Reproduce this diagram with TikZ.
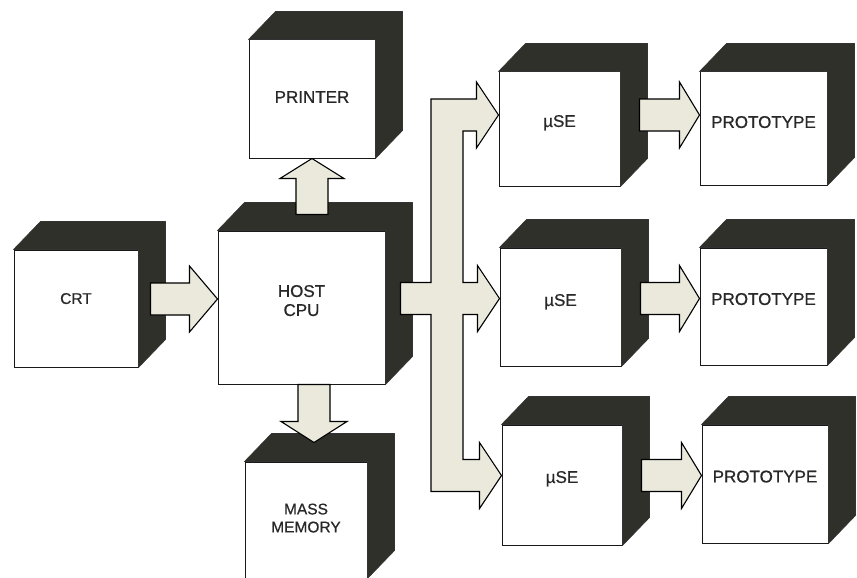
\documentclass[tikz,border=0pt]{standalone}
\usepackage{fontspec}
\setmainfont{Liberation Sans}[AutoFakeBold=0.7]
\usetikzlibrary{calc}

\definecolor{facegray}{RGB}{48,48,42}
\definecolor{cream}{RGB}{234,233,220}
\definecolor{inkgray}{RGB}{40,40,40}

\newcommand{\fatright}[3][22pt]{%
  \filldraw[fat] let \p1=#2, \p2=#3 in
    (\x1,\y2+16pt) -- (\x2-#1,\y2+16pt) -- (\x2-#1,\y2+33pt) -- (\p2)
    -- (\x2-#1,\y2-33pt) -- (\x2-#1,\y2-16pt) -- (\x1,\y2-16pt) -- cycle;}
\newcommand{\fatup}[3][20pt]{%
  \filldraw[fat] let \p1=#2, \p2=#3 in
    (\x2-16pt,\y1) -- (\x2-16pt,\y2-#1) -- (\x2-32pt,\y2-#1) -- (\p2)
    -- (\x2+32pt,\y2-#1) -- (\x2+16pt,\y2-#1) -- (\x2+16pt,\y1) -- cycle;}
\newcommand{\fatdown}[3][20pt]{%
  \filldraw[fat] let \p1=#2, \p2=#3 in
    (\x2-16pt,\y1) -- (\x2-16pt,\y2+#1) -- (\x2-33pt,\y2+#1) -- (\p2)
    -- (\x2+33pt,\y2+#1) -- (\x2+16pt,\y2+#1) -- (\x2+16pt,\y1) -- cycle;}

\begin{document}
\begin{tikzpicture}[
    x=1pt, y=1pt,
    block/.style={draw=black!90, line width=1pt, fill=white, inner sep=0pt,
      text=inkgray, font=\fontsize{17}{19}\selectfont\bfseries, align=center},
    face/.style={fill=facegray, draw=black!80, line width=0.6pt, line join=round},
    fat/.style={fill=cream, draw=black, line width=1.1pt, line join=miter}
  ]
    \clip (0,0) rectangle (857,-578);
    \fill[white] (0,0) rectangle (857,-578);

    \node[block, minimum width=124, minimum height=117, text depth=20pt,
      font=\fontsize{15.5}{17}\selectfont\bfseries] (crt) at (76,-308.5) {CRT};
    \node[block, minimum width=126, minimum height=118, text depth=4pt] (printer) at (312,-99) {PRINTER};
    \node[block, minimum width=167, minimum height=153, text depth=14pt] (host) at (301.5,-307.5) {HOST\\CPU};
    \node[block, minimum width=122, minimum height=116, text depth=4pt,
      font=\fontsize{15.5}{18}\selectfont\bfseries] (mass) at (306,-520) {MASS\\MEMORY};

    \node[block, minimum width=121, minimum height=114, text depth=16pt] (use1) at (559.5,-129) {µSE};
    \node[block, minimum width=121, minimum height=118, text depth=14pt] (use2) at (560.5,-307) {µSE};
    \node[block, minimum width=120, minimum height=120, text depth=16pt] (use3) at (562,-485) {µSE};

    \node[block, minimum width=127, minimum height=113, text depth=13pt] (proto1) at (763.5,-128.5) {PROTOTYPE};
    \node[block, minimum width=127, minimum height=117, text depth=15pt] (proto2) at (763.5,-306.5) {PROTOTYPE};
    \node[block, minimum width=126, minimum height=118, text depth=15pt] (proto3) at (765,-484) {PROTOTYPE};

    \foreach \n in {crt,printer,host,mass,use1,use2,use3,proto1,proto2,proto3}
      \filldraw[face] (\n.north west) -- ++(27,28) -- ($(\n.north east)+(27,28)$)
        -- ($(\n.south east)+(27,28)$) -- (\n.south east) -- (\n.north east) -- cycle;

    \fatright[28pt]{([xshift=12pt]crt.east)}{([yshift=8.5pt]host.west)}
    \fatup{([yshift=16pt]host.north)}{(printer.south)}
    \fatdown[21pt]{(host.south)}{([xshift=8pt,yshift=19pt]mass.north)}

    \fatright[20pt]{([xshift=19pt]use1.east)}{([yshift=13.5pt]proto1.west)}
    \fatright[20pt]{([xshift=19pt]use2.east)}{([yshift=8pt]proto2.west)}
    \fatright[20pt]{([xshift=19pt]use3.east)}{([yshift=8.5pt]proto3.west)}

    \coordinate (bus) at (447,0);
    \filldraw[fat] let \p1=([yshift=14pt]use1.west), \p2=([yshift=8.5pt]use2.west),
        \p3=([yshift=9.5pt]use3.west), \p4=(bus), \p5=([xshift=15pt]host.east) in
      (\x4-16pt,\y1+16pt) -- (\x1-22pt,\y1+16pt) -- (\x1-22pt,\y1+33pt) -- (\p1)
      -- (\x1-22pt,\y1-33pt) -- (\x1-22pt,\y1-16pt) -- (\x4+16pt,\y1-16pt)
      -- (\x4+16pt,\y2+16pt) -- (\x2-22pt,\y2+16pt) -- (\x2-22pt,\y2+33pt) -- (\p2)
      -- (\x2-22pt,\y2-33pt) -- (\x2-22pt,\y2-16pt) -- (\x4+16pt,\y2-16pt)
      -- (\x4+16pt,\y3+16pt) -- (\x3-22pt,\y3+16pt) -- (\x3-22pt,\y3+33pt) -- (\p3)
      -- (\x3-22pt,\y3-33pt) -- (\x3-22pt,\y3-16pt) -- (\x4-16pt,\y3-16pt)
      -- (\x4-16pt,\y2-16pt) -- (\x5,\y2-16pt) -- (\x5,\y2+16pt) -- (\x4-16pt,\y2+16pt) -- cycle;
\end{tikzpicture}
\end{document}
